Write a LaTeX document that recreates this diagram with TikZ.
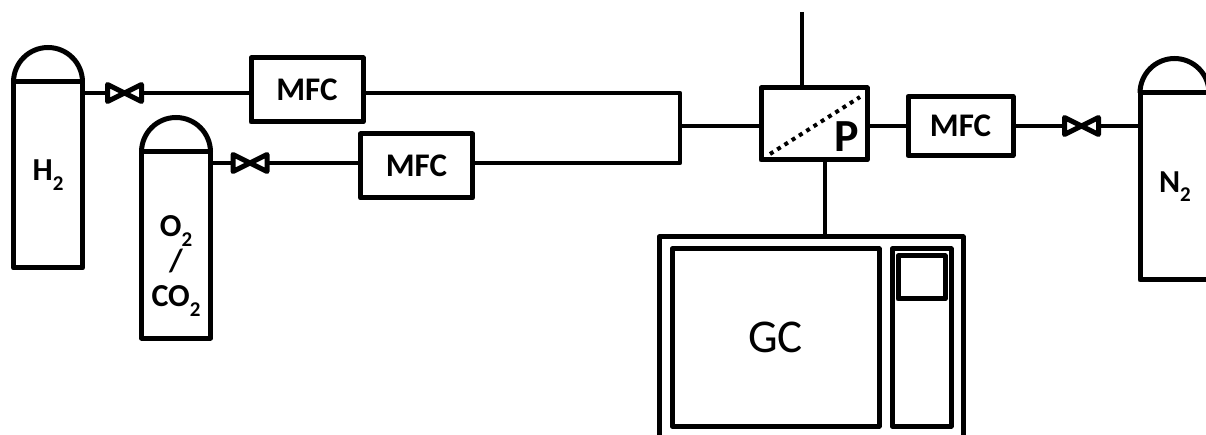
\documentclass[tikz,border=0pt]{standalone}
\usepackage{fontspec}
\setmainfont{Carlito}
\usetikzlibrary{positioning}
\newcommand{\subtwo}{\raisebox{-0.3em}{\fontsize{21}{21}\selectfont 2}}

\begin{document}
\begin{tikzpicture}[
  x=1pt, y=1pt,
  box/.style={draw, line width=5pt, line join=round, outer sep=0pt, inner sep=0pt},
  mfc/.style={box, font=\fontsize{33}{33}\selectfont\bfseries},
  tank/.style={box, minimum width=69pt, minimum height=186pt, font=\fontsize{32}{35}\selectfont\bfseries, align=center,
    append after command={\pgfextra{\draw[line width=5pt] (\tikzlastnode.north west) arc[start angle=180, end angle=0, radius=34.5pt];}}},
  valve/.style={outer sep=0pt, inner sep=0pt, minimum width=34pt, minimum height=17pt,
    append after command={\pgfextra{\draw[line width=5pt, line join=round] (\tikzlastnode.south west) -- (\tikzlastnode.north west) -- (\tikzlastnode.south east) -- (\tikzlastnode.north east) -- cycle;}}},
  pipe/.style={draw, line width=4.4pt, line join=round}
]
\useasboundingbox (0,0) rectangle (1206,-435);
\clip (0,0) rectangle (1206,-435);
\node[tank] (h2) at (48,-175) {H\subtwo};
\node[tank, below right=70pt and 59pt of h2.north east, anchor=north west] (o2) {};
\node[font=\fontsize{32}{35}\selectfont\bfseries, align=center, inner sep=0pt] (o2label) at ([yshift=-21pt]o2) {O\subtwo\\/\\CO\subtwo};
\node[valve, below right=2.5pt and 25pt of h2.north east, anchor=north west] (va) {};
\node[valve, below right=2.5pt and 22.5pt of o2.north east, anchor=north west] (vb) {};
\node[mfc, minimum width=112pt, minimum height=64pt, right=109.5pt of va, yshift=3pt] (mfca) {MFC};
\node[mfc, minimum width=112pt, minimum height=64pt, right=93.5pt of vb, yshift=-3pt] (mfcb) {MFC};
\node[box, minimum width=106pt, minimum height=72pt] (memb) at (814,-124) {};
\node[font=\fontsize{46}{46}\selectfont\bfseries, inner sep=0pt] (plabel) at ([shift={(-20pt,-49pt)}]memb.north east) {P};
\node[mfc, minimum width=105pt, minimum height=59pt, right=41pt of memb, yshift=-2pt] (mfcc) {MFC};
\node[valve, right=51.5pt of mfcc] (vc) {};
\node[tank, minimum width=70pt, minimum height=187pt, right=41.5pt of vc, yshift=-60.5pt] (n2) {N\subtwo};
\node[box, minimum width=304pt, minimum height=200pt, below=77pt of memb, xshift=-3pt] (gc) {};
\node[box, minimum width=207pt, minimum height=177pt, font=\fontsize{47}{47}\selectfont] (gcmain) at (775.5,-337.5) {GC};
\node[box, minimum width=59pt, minimum height=177pt, right=13pt of gcmain] (gcside) {};
\node[box, minimum width=47pt, minimum height=43pt, below=7pt of gcside.north, anchor=north] (gcscreen) {};
\coordinate (jn) at (680,-126);
\coordinate (vent) at (802,-12);
\draw[pipe] (va.west) -- (va.west -| h2.east);
\draw[pipe] (va.east) -- (va.east -| mfca.west);
\draw[pipe] (vb.west) -- (vb.west -| o2.east);
\draw[pipe] (vb.east) -- (vb.east -| mfcb.west);
\draw[pipe] (va.east -| mfca.east) -| (jn) |- (vb.east -| mfcb.east);
\draw[pipe] (jn) -- (jn -| memb.west);
\draw[pipe] (jn -| memb.east) -- (jn -| mfcc.west);
\draw[pipe] (mfcc.east) -- (vc.west);
\draw[pipe] (vc.east) -- (vc.east -| n2.west);
\draw[pipe] (vent) -- (vent |- memb.north);
\draw[pipe] ([xshift=11pt]memb.south) -- ([xshift=11pt]memb.south |- gc.north);
\draw[line width=4pt, dash pattern=on 4pt off 4.6pt] ([shift={(9pt,6pt)}]memb.south west) -- ([shift={(-7pt,-9pt)}]memb.north east);
\end{tikzpicture}
\end{document}
